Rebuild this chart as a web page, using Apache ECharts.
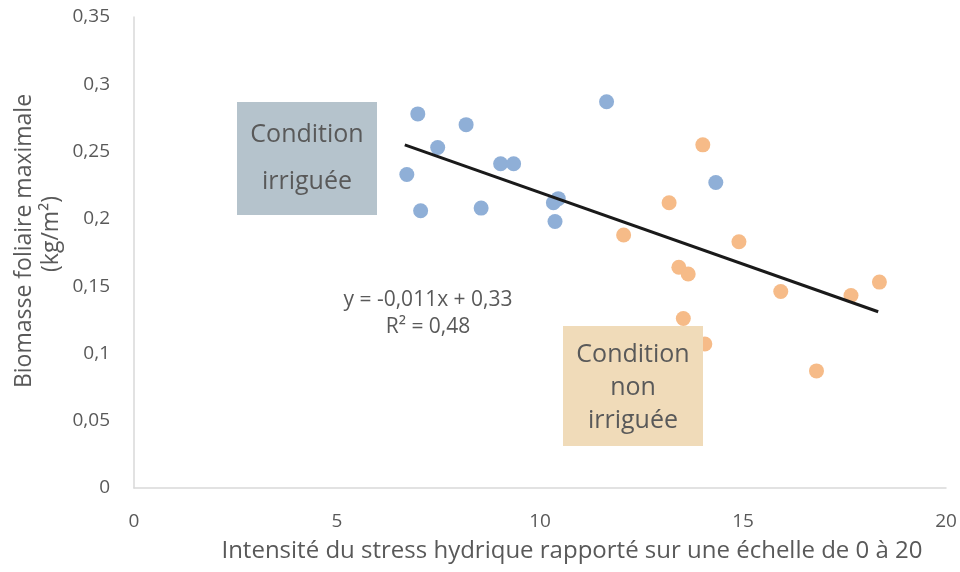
<!DOCTYPE html>
<html>
<head>
<meta charset="utf-8">
<script src="https://cdn.jsdelivr.net/npm/echarts@6/dist/echarts.min.js"></script>
<style>
  html, body { margin: 0; padding: 0; background: #fff; }
  #chart { width: 960px; height: 572px; }
</style>
</head>
<body>
<div id="chart"></div>
<script>
// Data
const irrigueX = [6.72, 6.99, 7.06, 7.48, 8.18, 8.55, 9.03, 9.35, 10.33, 10.45, 10.37, 11.64, 14.33];
const irrigueY = [0.233, 0.278, 0.206, 0.253, 0.270, 0.208, 0.241, 0.241, 0.212, 0.215, 0.198, 0.287, 0.227];
const nonIrrigueX = [14.01, 13.18, 12.06, 14.90, 13.42, 13.65, 13.53, 14.06, 15.93, 17.66, 18.36, 16.81];
const nonIrrigueY = [0.255, 0.212, 0.188, 0.183, 0.164, 0.159, 0.126, 0.107, 0.146, 0.143, 0.153, 0.087];
const trendX = [6.67, 18.33];
const trendY = [0.255, 0.131];
const xTicks = [0, 5, 10, 15, 20];
const yTicks = [0, 0.05, 0.1, 0.15, 0.2, 0.25, 0.3, 0.35];

const FONT = '"Open Sans", sans-serif';
const GREY = '#595959';

function pairs(xs, ys) {
    return xs.map((x, i) => [x, ys[i]]);
}

const chart = echarts.init(document.getElementById('chart'));

const option = {
    backgroundColor: '#fff',
    animation: false,
    grid: { left: 134, right: 14, top: 17, bottom: 84 },
    xAxis: {
        type: 'value',
        min: xTicks[0],
        max: xTicks[xTicks.length - 1],
        interval: 5,
        axisLine: { show: true, lineStyle: { color: '#d9d9d9', width: 1.5 } },
        axisTick: { show: false },
        splitLine: { show: false },
        axisLabel: { color: GREY, fontFamily: FONT, fontSize: 19, margin: 24 }
    },
    yAxis: {
        type: 'value',
        min: yTicks[0],
        max: yTicks[yTicks.length - 1],
        interval: 0.05,
        axisLine: { show: true, lineStyle: { color: '#d9d9d9', width: 1.5 } },
        axisTick: { show: false },
        splitLine: { show: false },
        axisLabel: {
            color: GREY, fontFamily: FONT, fontSize: 19, margin: 24,
            formatter: v => String(+v.toFixed(2)).replace('.', ',')
        }
    },
    series: [
        {
            name: 'Condition irriguée',
            type: 'scatter',
            symbolSize: 15,
            itemStyle: { color: '#8fafd7', opacity: 1 },
            data: pairs(irrigueX, irrigueY),
            z: 3
        },
        {
            name: 'Condition non irriguée',
            type: 'scatter',
            symbolSize: 15,
            itemStyle: { color: '#f6bb88', opacity: 1 },
            data: pairs(nonIrrigueX, nonIrrigueY),
            z: 3
        },
        {
            name: 'Tendance',
            type: 'line',
            symbol: 'none',
            lineStyle: { color: '#1a1a1a', width: 3 },
            data: pairs(trendX, trendY),
            z: 4
        }
    ],
    graphic: [
        // x axis title (sits right of the plot centre in the original)
        {
            type: 'text', x: 572, y: 551, z: 100,
            style: {
                text: 'Intensité du stress hydrique rapporté sur une échelle de 0 à 20',
                fill: GREY, font: '24px ' + FONT, align: 'center', verticalAlign: 'middle'
            }
        },
        // y axis title (two lines, rotated)
        {
            type: 'text', x: 24, y: 241, rotation: Math.PI / 2, z: 100,
            style: {
                text: 'Biomasse foliaire maximale', fill: GREY, font: '23px ' + FONT,
                align: 'center', verticalAlign: 'middle'
            }
        },
        {
            type: 'text', x: 51, y: 234, rotation: Math.PI / 2, z: 100,
            style: {
                text: '(kg/m²)', fill: GREY, font: '23px ' + FONT,
                align: 'center', verticalAlign: 'middle'
            }
        },
        // equation
        {
            type: 'text', x: 428, y: 314, z: 100,
            style: {
                text: 'y = -0,011x + 0,33\nR² = 0,48', fill: GREY, font: '21px ' + FONT,
                align: 'center', verticalAlign: 'middle', lineHeight: 27
            }
        },
        // condition boxes
        {
            type: 'rect', z: 100,
            shape: { x: 237, y: 102, width: 140, height: 113 },
            style: { fill: '#b5c3cc' }
        },
        {
            type: 'text', x: 307, y: 158, z: 101,
            style: {
                text: 'Condition\nirriguée', fill: GREY, font: '25px ' + FONT,
                align: 'center', verticalAlign: 'middle', lineHeight: 47
            }
        },
        {
            type: 'rect', z: 100,
            shape: { x: 563, y: 326, width: 140, height: 120 },
            style: { fill: '#f0dbb9' }
        },
        {
            type: 'text', x: 633, y: 388, z: 101,
            style: {
                text: 'Condition\nnon\nirriguée', fill: GREY, font: '25px ' + FONT,
                align: 'center', verticalAlign: 'middle', lineHeight: 33
            }
        }
    ]
};

chart.setOption(option);
</script>
</body>
</html>
